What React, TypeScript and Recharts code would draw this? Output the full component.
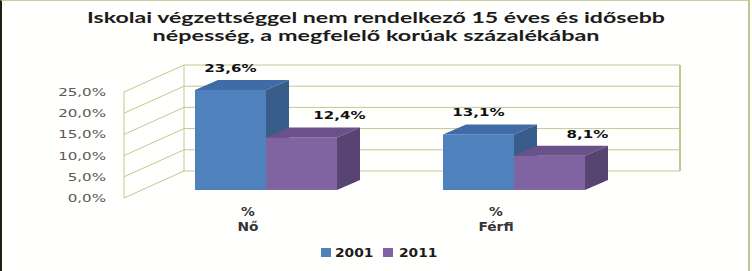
// @ts-nocheck
import React from "react";
import { BarChart, Bar, XAxis, YAxis, CartesianGrid, LabelList } from "recharts";

const CATEGORIES = ["Nő", "Férfi"];
const UNIT_LINE = "%";
const VALUES_2001 = [23.6, 13.1];
const VALUES_2011 = [12.4, 8.1];
const Y_TICKS = [0, 5, 10, 15, 20, 25];
const TITLE = ["Iskolai végzettséggel nem rendelkező 15 éves és idősebb", "népesség, a megfelelő korúak százalékában"];

const SERIES = [
  { key: "y2001", name: "2001", front: "#4f81bd", top: "#3f6ca6", side: "#385d8a", labelDx: 0 },
  { key: "y2011", name: "2011", front: "#8064a2", top: "#6a5189", side: "#574473", labelDx: 38 },
];

const data = CATEGORIES.map((c, i) => ({ cat: c, y2001: VALUES_2001[i], y2011: VALUES_2011[i] }));

// fake 3d perspective (Excel style)
const WALL_DX = 60, WALL_DY = -27;
const BAR_DX = 18, BAR_DY = -8;
const DEPTH_X = 23, DEPTH_Y = -10;
const GRID = "#c3c890";
const FONT = "'DejaVu Sans', Verdana, sans-serif";

const fmt = (v) => v.toFixed(1).replace(".", ",") + "%";

function SText({ x, y, sx = 1.37, anchor = "middle", children, ...rest }) {
  return (
    <text transform={`translate(${x},${y}) scale(${sx},1)`} textAnchor={anchor} fontFamily={FONT} {...rest}>
      {children}
    </text>
  );
}

const gridLine = (p) => {
  const { x1, x2, y1, index } = p;
  const pts = p.horizontalPoints || [];
  const top = p.y != null ? p.y : Math.min(...pts);
  const bottom = p.y != null ? p.y + p.height : Math.max(...pts);
  return (
    <g key={p.key}>
      <line x1={x1} y1={y1} x2={x1 + WALL_DX} y2={y1 + WALL_DY} stroke={GRID} />
      <line x1={x1 + WALL_DX} y1={y1 + WALL_DY} x2={x2 + WALL_DX} y2={y1 + WALL_DY} stroke={GRID} />
      {index === 0 && (
        <g>
          <line x1={x1} y1={top} x2={x1} y2={bottom} stroke={GRID} />
          <line x1={x1 + WALL_DX} y1={top + WALL_DY} x2={x1 + WALL_DX} y2={bottom + WALL_DY} stroke={GRID} />
          <line x1={x2 + WALL_DX} y1={top + WALL_DY} x2={x2 + WALL_DX} y2={bottom + WALL_DY} stroke={GRID} strokeWidth={2} />
        </g>
      )}
    </g>
  );
};

const bar3d = (s) => (p) => {
  const { x, y, width: w, height: h } = p;
  if (!h || h <= 0) return null;
  const fx = x + BAR_DX, fy = y + BAR_DY;
  return (
    <g>
      <rect x={fx} y={fy} width={w} height={h} fill={s.front} />
      <polygon points={`${fx},${fy} ${fx + DEPTH_X},${fy + DEPTH_Y} ${fx + w + DEPTH_X},${fy + DEPTH_Y} ${fx + w},${fy}`} fill={s.top} />
      <polygon points={`${fx + w},${fy} ${fx + w + DEPTH_X},${fy + DEPTH_Y} ${fx + w + DEPTH_X},${fy + h + DEPTH_Y} ${fx + w},${fy + h}`} fill={s.side} />
    </g>
  );
};

const barLabel = (s) => (p) => {
  const { x, y, width, value } = p;
  return (
    <SText x={x + BAR_DX + width / 2 + s.labelDx} y={y + BAR_DY + DEPTH_Y - 8} fontSize={11} fontWeight="bold" fill="#111">
      {fmt(value)}
    </SText>
  );
};

const YTick = (p) => (
  <SText x={p.x} y={p.y + 4} anchor="end" fontSize={11} fill="#595959">
    {fmt(p.payload.value)}
  </SText>
);

const XTick = (p) => (
  <g>
    <SText x={p.x} y={p.y + 18} sx={1.2} fontSize={11.5} fontWeight="bold" fill="#333">{UNIT_LINE}</SText>
    <SText x={p.x} y={p.y + 33} sx={1.2} fontSize={11.5} fontWeight="bold" fill="#333">{p.payload.value}</SText>
  </g>
);

export default function App() {
  return (
    <div style={{ position: "relative", width: 752, height: 271, background: "#fffffd", overflow: "hidden" }}>
      <style>{`body{margin:0}`}</style>
      <BarChart width={752} height={271} data={data} margin={{ top: 92, right: 132, bottom: 0, left: 0 }} barGap={0} barSize={71}>
        <CartesianGrid vertical={false} horizontal={gridLine} />
        <XAxis dataKey="cat" height={73} axisLine={false} tickLine={false} tickSize={0} tickMargin={0} tick={XTick} interval={0} />
        <YAxis width={124} domain={[0, 25]} ticks={Y_TICKS} interval={0} axisLine={false} tickLine={false} tickSize={0} tickMargin={18} tick={YTick} />
        {SERIES.map((s) => (
          <Bar key={s.key} dataKey={s.key} name={s.name} fill={s.front} shape={bar3d(s)} isAnimationActive={false}>
            <LabelList dataKey={s.key} content={barLabel(s)} />
          </Bar>
        ))}
      </BarChart>
      <svg width={752} height={271} style={{ position: "absolute", left: 0, top: 0, pointerEvents: "none" }}>
        <text x={376} y={23} textAnchor="middle" fontFamily="Lato, sans-serif" fontWeight="bold" fontSize={14.5} fill="#1c1c1c" textLength={578} lengthAdjust="spacingAndGlyphs">{TITLE[0]}</text>
        <text x={376} y={41} textAnchor="middle" fontFamily="Lato, sans-serif" fontWeight="bold" fontSize={14.5} fill="#1c1c1c" textLength={447} lengthAdjust="spacingAndGlyphs">{TITLE[1]}</text>
        {SERIES.map((s, i) => (
          <g key={s.key}>
            <rect x={321 + i * 62} y={248} width={10} height={9} fill={s.front} />
            <SText x={335 + i * 64} y={257} anchor="start" sx={1.2} fontSize={11.5} fontWeight="bold" fill="#1c1c1c">{s.name}</SText>
          </g>
        ))}
      </svg>
      <div style={{ position: "absolute", left: 0, top: 0, width: 750, height: 300, boxSizing: "border-box", borderTop: "1px solid #c9cc9c", borderLeft: "2px solid #1e2010", borderRight: "2px solid #c3c68f", pointerEvents: "none" }} />
    </div>
  );
}
